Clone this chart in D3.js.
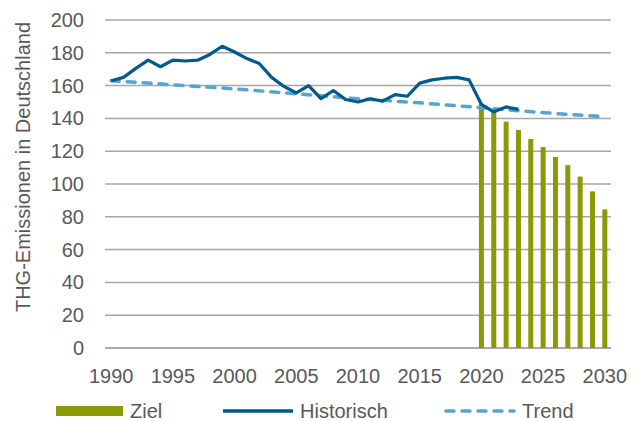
<!DOCTYPE html>
<html>
<head>
<meta charset="utf-8">
<script src="https://cdn.jsdelivr.net/npm/d3@7"></script>
<style>
  body { margin: 0; background: #fff; }
  text { font-family: "Liberation Sans", Arial, sans-serif; fill: #595959; font-size: 20px; }
</style>
</head>
<body>
<div id="chart"></div>
<script>
// data
var years = d3.range(1990, 2031);
var yTicks = [0, 20, 40, 60, 80, 100, 120, 140, 160, 180, 200];
var xTickYears = [1990, 1995, 2000, 2005, 2010, 2015, 2020, 2025, 2030];

var histYears = d3.range(1990, 2024);
var histValues = [163, 165, 170.5, 175.5, 171.5, 175.5, 175, 175.5, 179, 184,
  180.5, 176.5, 173.5, 165, 159.5, 155.5, 160, 152, 157, 151.5,
  150, 152, 150.5, 154.5, 153.5, 161.5, 163.5, 164.5, 165, 163.5,
  148.5, 144, 147, 145.5];

var zielYears = d3.range(2020, 2031);
var zielValues = [149, 144, 138, 133, 127.5, 122.5, 116.5, 111.5, 104.5, 95.5, 84.5];

var trendYears = [1990, 1995, 2000, 2005, 2010, 2015, 2020, 2025, 2030];
var trendValues = [163, 160.5, 158, 155, 152, 149.5, 146.5, 143.5, 141];

var width = 638, height = 421;
var margin = { left: 105, right: 27, top: 20, bottom: 73 };

var svg = d3.select('#chart').append('svg')
  .attr('width', width)
  .attr('height', height);

var x = d3.scaleBand()
  .domain(years)
  .range([margin.left, width - margin.right]);

var y = d3.scaleLinear()
  .domain([0, 200])
  .range([height - margin.bottom, margin.top]);

var cx = function (yr) { return x(yr) + x.bandwidth() / 2; };

// gridlines
svg.append('g')
  .selectAll('line')
  .data(yTicks)
  .enter().append('line')
  .attr('x1', margin.left)
  .attr('x2', width - margin.right)
  .attr('y1', function (d) { return y(d); })
  .attr('y2', function (d) { return y(d); })
  .attr('stroke', function (d) { return d === 0 ? '#8c8c8c' : '#a6a6a6'; })
  .attr('stroke-width', 1.5);

// y tick labels
svg.append('g')
  .selectAll('text')
  .data(yTicks)
  .enter().append('text')
  .attr('x', 84)
  .attr('y', function (d) { return y(d); })
  .attr('dy', '0.35em')
  .attr('text-anchor', 'end')
  .text(function (d) { return d; });

// x tick labels
svg.append('g')
  .selectAll('text')
  .data(xTickYears)
  .enter().append('text')
  .attr('x', function (d) { return cx(d); })
  .attr('y', 383)
  .attr('text-anchor', 'middle')
  .text(function (d) { return d; });

// y axis title
svg.append('text')
  .attr('transform', 'translate(30,167) rotate(-90)')
  .attr('text-anchor', 'middle')
  .text('THG-Emissionen in Deutschland');

// bars (Ziel)
var barW = 5;
svg.append('g')
  .selectAll('rect')
  .data(zielYears.map(function (yr, i) { return { year: yr, value: zielValues[i] }; }))
  .enter().append('rect')
  .attr('x', function (d) { return cx(d.year) - barW / 2; })
  .attr('width', barW)
  .attr('y', function (d) { return y(d.value); })
  .attr('height', function (d) { return y(0) - y(d.value); })
  .attr('fill', '#8a9a05');

// trend line
var line = d3.line()
  .x(function (d) { return cx(d[0]); })
  .y(function (d) { return y(d[1]); });

svg.append('path')
  .datum(d3.zip(trendYears, trendValues))
  .attr('d', line)
  .attr('fill', 'none')
  .attr('stroke', '#55a5d0')
  .attr('stroke-width', 3.5)
  .attr('stroke-linecap', 'round')
  .attr('stroke-dasharray', '8,8');

// historic line
svg.append('path')
  .datum(d3.zip(histYears, histValues))
  .attr('d', line)
  .attr('fill', 'none')
  .attr('stroke', '#005a8b')
  .attr('stroke-width', 3.2)
  .attr('stroke-linejoin', 'round');

// legend
var ly = 411;
var legend = svg.append('g');
legend.append('rect')
  .attr('x', 56).attr('y', ly - 5)
  .attr('width', 67).attr('height', 10)
  .attr('fill', '#8a9a05');
legend.append('text')
  .attr('x', 130).attr('y', 418)
  .text('Ziel');

legend.append('line')
  .attr('x1', 223).attr('x2', 293).attr('y1', ly).attr('y2', ly)
  .attr('stroke', '#005a8b').attr('stroke-width', 3.5);
legend.append('text')
  .attr('x', 300).attr('y', 418)
  .text('Historisch');

legend.append('line')
  .attr('x1', 446).attr('x2', 514).attr('y1', ly).attr('y2', ly)
  .attr('stroke', '#55a5d0').attr('stroke-width', 3.5)
  .attr('stroke-linecap', 'round')
  .attr('stroke-dasharray', '8,8');
legend.append('text')
  .attr('x', 522).attr('y', 418)
  .text('Trend');
</script>
</body>
</html>
